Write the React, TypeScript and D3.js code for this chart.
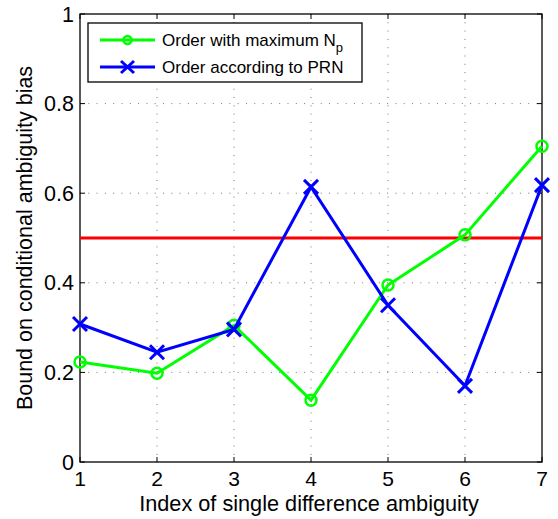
import React from "react";
import * as d3 from "d3";

const indices = [1, 2, 3, 4, 5, 6, 7];
const greenValues = [0.223, 0.198, 0.305, 0.138, 0.395, 0.507, 0.705];
const blueValues = [0.308, 0.245, 0.296, 0.614, 0.35, 0.17, 0.618];
const thresholdValue = 0.5;
const xTicks = [1, 2, 3, 4, 5, 6, 7];
const yTicks = [0, 0.2, 0.4, 0.6, 0.8, 1];
const seriesNames = ["Order with maximum N", "Order according to PRN"];

const W = 558;
const H = 519;
const L = 80, R = 542, T = 14, B = 462;
const FONT = "'Liberation Sans', Arial, sans-serif";

export default function App() {
  const x = d3.scaleLinear().domain([1, 7]).range([L, R]);
  const y = d3.scaleLinear().domain([0, 1]).range([B, T]);
  const line = d3.line<number>().x((_, i) => x(indices[i])).y((d) => y(d));
  const green = "#00ff00";
  const blue = "#0000ff";
  const tick = 5;
  return (
    <svg width={W} height={H} style={{ position: "absolute", left: 0, top: 0, background: "#fff" }}>
      <rect x={0} y={0} width={W} height={H} fill="#fff" />
      {/* grid */}
      {xTicks.slice(1, -1).map((t) => (
        <line key={"gx" + t} x1={x(t)} x2={x(t)} y1={T} y2={B} stroke="#777" strokeWidth={1} strokeDasharray="1,7.3" />
      ))}
      {yTicks.slice(1, -1).map((t) => (
        <line key={"gy" + t} x1={L} x2={R} y1={y(t)} y2={y(t)} stroke="#777" strokeWidth={1} strokeDasharray="1,7.3" />
      ))}
      {/* ticks */}
      {xTicks.map((t) => (
        <g key={"tx" + t}>
          <line x1={x(t)} x2={x(t)} y1={B} y2={B - tick} stroke="#000" />
          <line x1={x(t)} x2={x(t)} y1={T} y2={T + tick} stroke="#000" />
          <text x={x(t)} y={486} textAnchor="middle" fontFamily={FONT} fontSize={21}>{t}</text>
        </g>
      ))}
      {yTicks.map((t) => (
        <g key={"ty" + t}>
          <line x1={L} x2={L + tick} y1={y(t)} y2={y(t)} stroke="#000" />
          <line x1={R} x2={R - tick} y1={y(t)} y2={y(t)} stroke="#000" />
          <text x={L - 6} y={y(t) + 7.5} textAnchor="end" fontFamily={FONT} fontSize={21.5}>{String(t)}</text>
        </g>
      ))}
      <rect x={L} y={T} width={R - L} height={B - T} fill="none" stroke="#000" strokeWidth={1.3} />
      {/* threshold */}
      <line x1={L} x2={R} y1={y(thresholdValue)} y2={y(thresholdValue)} stroke="#ff0000" strokeWidth={3} />
      {/* series */}
      <path d={line(greenValues) || ""} fill="none" stroke={green} strokeWidth={3} />
      {greenValues.map((v, i) => (
        <circle key={"gc" + i} cx={x(indices[i])} cy={y(v)} r={5.5} fill="none" stroke={green} strokeWidth={2.5} />
      ))}
      <path d={line(blueValues) || ""} fill="none" stroke={blue} strokeWidth={3} />
      {blueValues.map((v, i) => {
        const cx = x(indices[i]);
        const cy = y(v);
        const s = 7;
        return (
          <path key={"bx" + i} d={`M${cx - s},${cy - s}L${cx + s},${cy + s}M${cx - s},${cy + s}L${cx + s},${cy - s}`} stroke={blue} strokeWidth={3} />
        );
      })}
      {/* axis labels */}
      <text x={(140 + 478) / 2} y={511} textAnchor="middle" fontFamily={FONT} fontSize={21.7}>Index of single difference ambiguity</text>
      <text transform={`translate(32,${(T + B) / 2}) rotate(-90)`} textAnchor="middle" fontFamily={FONT} fontSize={21.5}>Bound on conditional ambiguity bias</text>
      {/* legend */}
      <rect x={88} y={23} width={274} height={59} fill="#fff" stroke="#000" strokeWidth={1.3} />
      <line x1={100} x2={155} y1={40} y2={40} stroke={green} strokeWidth={3} />
      <circle cx={127.5} cy={40} r={4} fill="none" stroke={green} strokeWidth={2.5} />
      <text x={162} y={46} fontFamily={FONT} fontSize={17}>
        {seriesNames[0]}
        <tspan fontSize={13} dy={6}>p</tspan>
      </text>
      <line x1={100} x2={155} y1={67} y2={67} stroke={blue} strokeWidth={3} />
      <path d={`M${121},${61}L${134},${73}M${121},${73}L${134},${61}`} stroke={blue} strokeWidth={3} />
      <text x={162} y={73} fontFamily={FONT} fontSize={17}>{seriesNames[1]}</text>
    </svg>
  );
}
